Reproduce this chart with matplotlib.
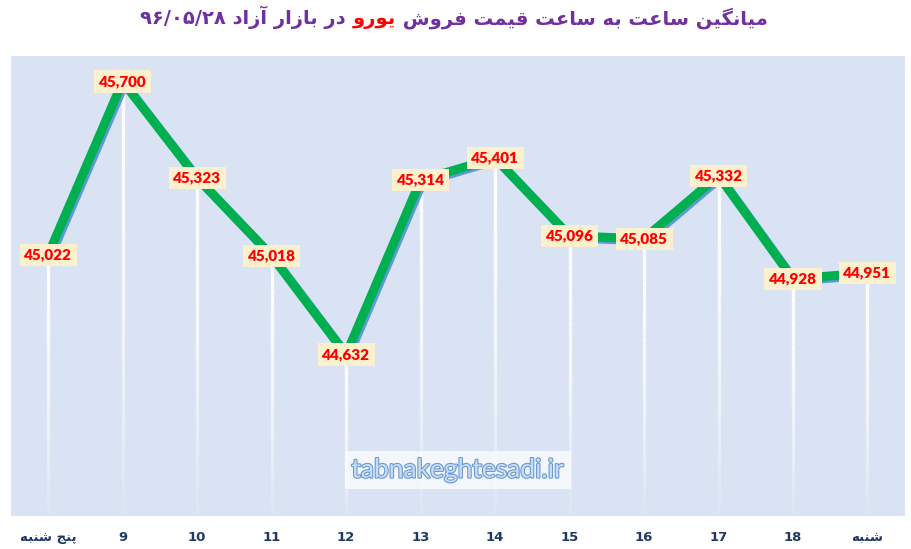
import matplotlib
matplotlib.use("Agg")
import matplotlib.pyplot as plt
import matplotlib.patheffects as pe
from matplotlib.collections import LineCollection
import numpy as np

# data
hour_labels = ["پنج شنبه", "9", "10", "11", "12", "13", "14", "15", "16", "17", "18", "شنبه"]
prices = [45022, 45700, 45323, 45018, 44632, 45314, 45401, 45096, 45085, 45332, 44928, 44951]

title_right = "میانگین ساعت به ساعت قیمت فروش "
title_red = "یورو"
title_left = " در بازار آزاد"
title_date = "۹۶/۰۵/۲۸"
watermark = "tabnakeghtesadi.ir"

# minimal Persian shaping (matplotlib does no Arabic joining / bidi)
RIGHT_ONLY = set("اآدذرزژو")
FORMS = {
    "ا": ("\uFE8D", "\uFE8E"), "آ": ("\uFE81", "\uFE82"),
    "د": ("\uFEA9", "\uFEAA"), "ر": ("\uFEAD", "\uFEAE"),
    "ز": ("\uFEAF", "\uFEB0"), "و": ("\uFEED", "\uFEEE"),
    "ب": ("\uFE8F", "\uFE90", "\uFE91", "\uFE92"),
    "ت": ("\uFE95", "\uFE96", "\uFE97", "\uFE98"),
    "ج": ("\uFE9D", "\uFE9E", "\uFE9F", "\uFEA0"),
    "س": ("\uFEB1", "\uFEB2", "\uFEB3", "\uFEB4"),
    "ش": ("\uFEB5", "\uFEB6", "\uFEB7", "\uFEB8"),
    "ع": ("\uFEC9", "\uFECA", "\uFECB", "\uFECC"),
    "ف": ("\uFED1", "\uFED2", "\uFED3", "\uFED4"),
    "ق": ("\uFED5", "\uFED6", "\uFED7", "\uFED8"),
    "م": ("\uFEE1", "\uFEE2", "\uFEE3", "\uFEE4"),
    "ن": ("\uFEE5", "\uFEE6", "\uFEE7", "\uFEE8"),
    "ه": ("\uFEE9", "\uFEEA", "\uFEEB", "\uFEEC"),
    "ی": ("\uFBFC", "\uFBFD", "\uFBFE", "\uFBFF"),
    "گ": ("\uFB92", "\uFB93", "\uFB94", "\uFB95"),
    "پ": ("\uFB56", "\uFB57", "\uFB58", "\uFB59"),
}


def rtl(text):
    if text.isascii():
        return text
    out = []
    for i, ch in enumerate(text):
        if ch not in FORMS:
            out.append(ch)
            continue
        prev = text[i - 1] if i > 0 else ""
        nxt = text[i + 1] if i + 1 < len(text) else ""
        jp = prev in FORMS and prev not in RIGHT_ONLY
        jn = ch not in RIGHT_ONLY and nxt in FORMS
        f = FORMS[ch]
        if jp and jn:
            out.append(f[3])
        elif jp:
            out.append(f[1])
        elif jn:
            out.append(f[2])
        else:
            out.append(f[0])
    return "".join(out)[::-1]


fig = plt.figure(figsize=(9.12, 5.49), dpi=100)
ax = fig.add_axes([0.012, 0.060, 0.980, 0.838])
ax.set_facecolor("#dae3f3")
for s in ax.spines.values():
    s.set_visible(False)

x = np.arange(len(prices))
ymin, ymax = 44000, 45800
ax.set_xlim(-0.5, len(prices) - 0.5)
ax.set_ylim(ymin, ymax)
ax.set_yticks([])

# white drop lines fading towards the bottom
nseg = 40
for xi, v in zip(x, prices):
    ys = np.linspace(v, ymin, nseg + 1)
    segs = [[(xi, ys[k]), (xi, ys[k + 1])] for k in range(nseg)]
    t = np.linspace(0, 1, nseg)
    alphas = np.clip(1 - t ** 1.6 * 0.92, 0.05, 1)
    cols = [(1, 1, 1, a) for a in alphas]
    ax.add_collection(LineCollection(segs, colors=cols, linewidths=2.4, zorder=2))

ax.plot(x, prices, color="#00b050", lw=6.5, solid_capstyle="butt", zorder=3,
        path_effects=[pe.SimpleLineShadow(offset=(1.5, -1.5), shadow_color="#5b9bd5", alpha=1),
                      pe.Normal()])

for xi, v in zip(x, prices):
    ax.text(xi, v, f"{v:,}", ha="center", va="center", color="#ff0000",
            fontsize=11, fontweight="heavy", family="Lato", zorder=5,
            bbox=dict(boxstyle="square,pad=0.3", fc="#fdf0cd", ec="none"))

ax.set_xticks(x)
ax.set_xticklabels([rtl(h) for h in hour_labels], family="DejaVu Sans",
                   fontweight="bold", fontsize=9.5, color="#1f3864")
ax.tick_params(axis="x", length=0, pad=11)

# watermark
ax.text(0.5, 0.10, watermark, transform=ax.transAxes, ha="center", va="center",
        fontsize=19, family="Lato", color="#c9ddf2", zorder=4,
        path_effects=[pe.withStroke(linewidth=1.6, foreground="#6a9ad6")],
        bbox=dict(boxstyle="square,pad=0.25", fc="white", ec="none", alpha=0.7))

# title, coloured pieces chained right to left
tprops = dict(fontsize=14, fontweight="bold", family="DejaVu Sans")
t1 = fig.text(0.842, 0.967, rtl(title_right), ha="right", va="center",
              color="#7030a0", **tprops)
t2 = ax.annotate(rtl(title_red), xy=(0, 0), xycoords=t1, ha="right", va="bottom",
                 color="#ff0000", annotation_clip=False, **tprops)
t3 = ax.annotate(title_date + " " + rtl(title_left), xy=(0, 0), xycoords=t2,
                 ha="right", va="bottom", color="#7030a0", annotation_clip=False, **tprops)

fig.savefig("out.png", dpi=100)
